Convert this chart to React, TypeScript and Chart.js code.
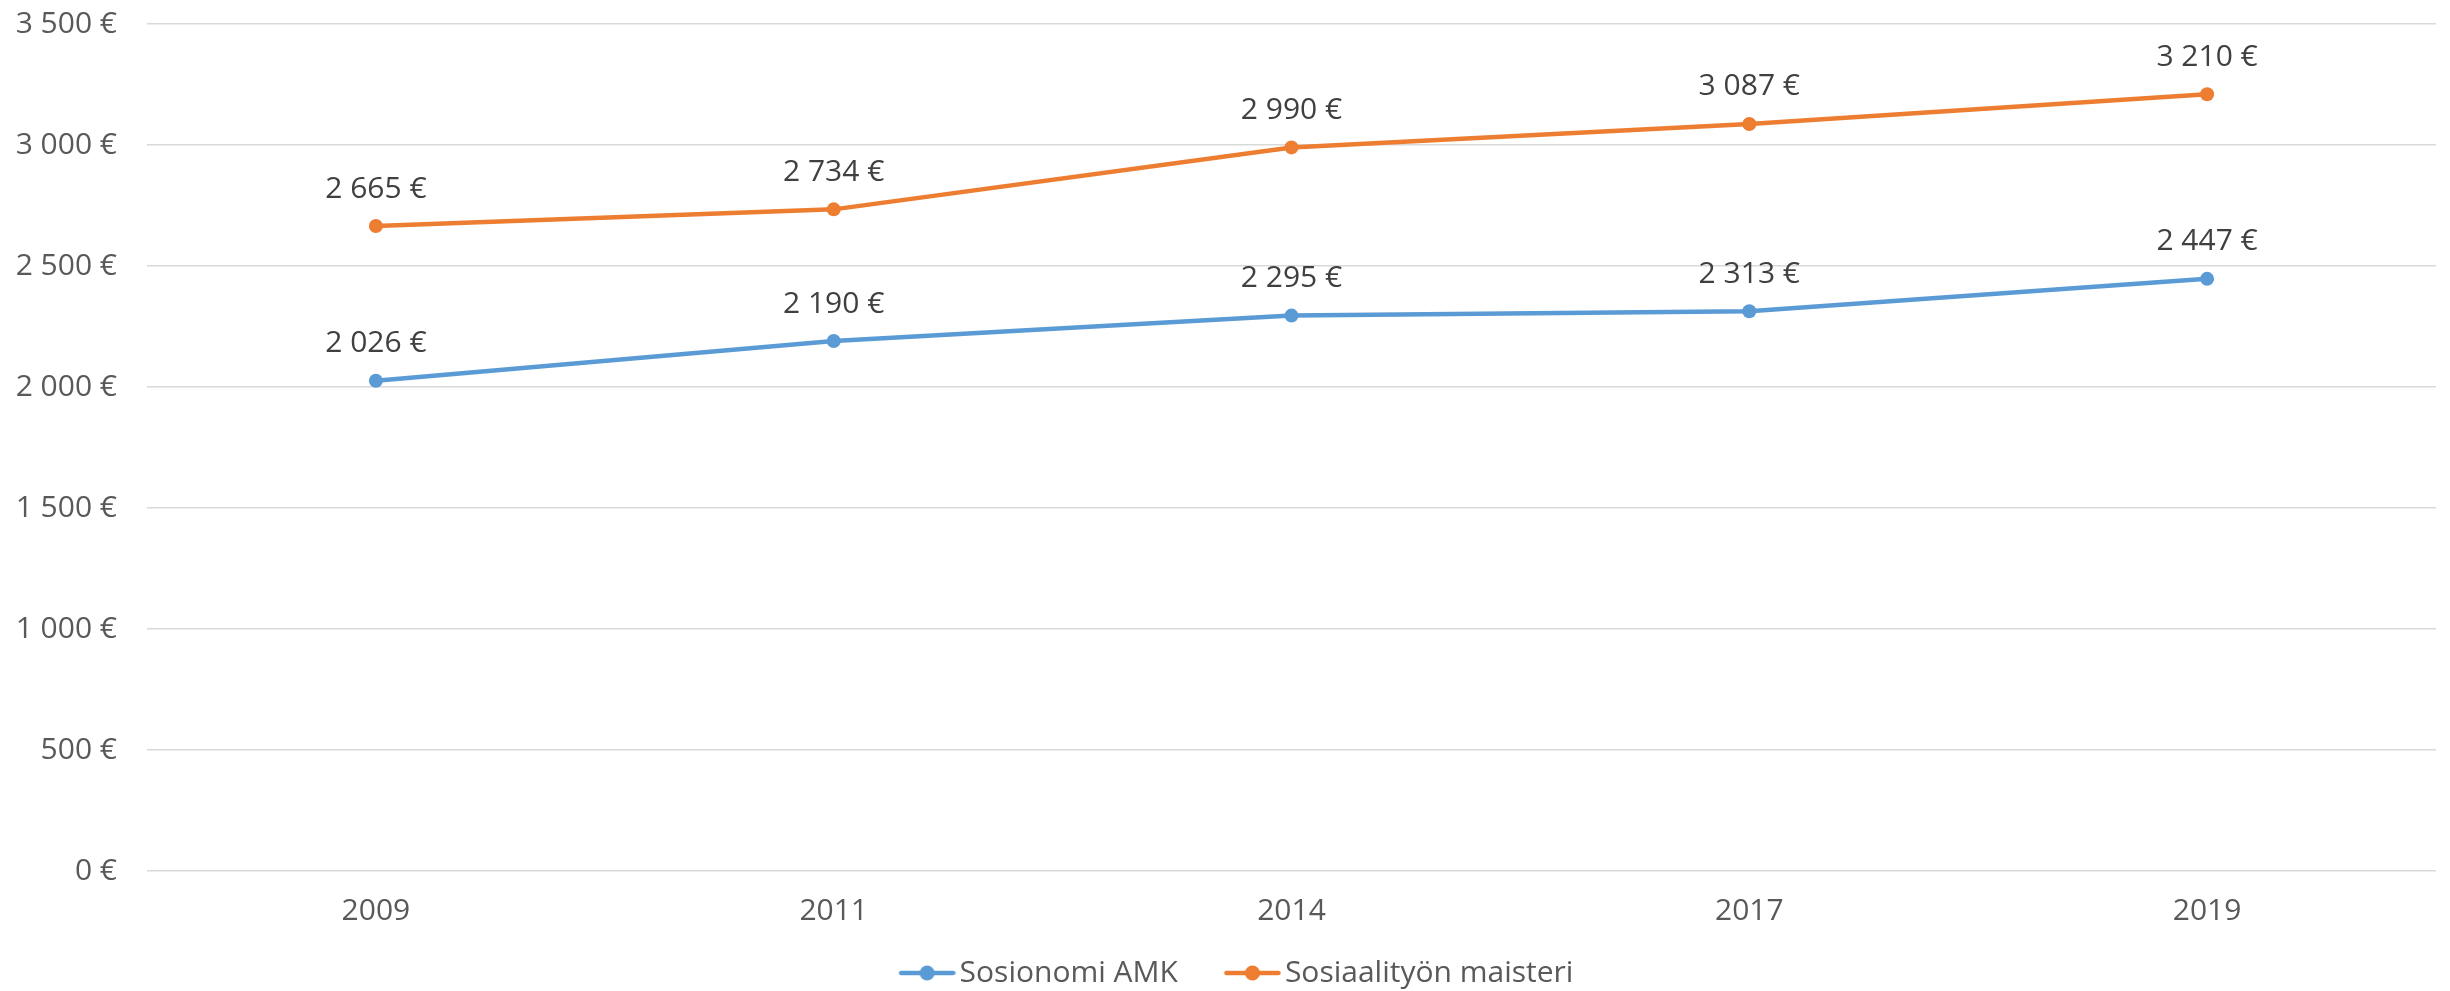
import React, { useEffect, useRef } from "react";
import { Chart, registerables } from "chart.js";

Chart.register(...registerables);

const categories = ["2009", "2011", "2014", "2017", "2019"];
const sosionomiAmk = [2026, 2190, 2295, 2313, 2447];
const sosiaalitynMaisteri = [2665, 2734, 2990, 3087, 3210];
const seriesNames = ["Sosionomi AMK", "Sosiaalityön maisteri"];
const seriesColors = ["#5B9BD5", "#ED7D31"];
const yMin = 0;
const yMax = 3500;
const yStep = 500;

const FONT = "'Open Sans', sans-serif";

function euro(v: number): string {
  return String(v).replace(/\B(?=(\d{3})+(?!\d))/g, " ") + " €";
}

function makeLegendImage(color: string): HTMLCanvasElement {
  const c = document.createElement("canvas");
  c.width = 104;
  c.height = 18;
  const ctx = c.getContext("2d")!;
  ctx.strokeStyle = color;
  ctx.lineWidth = 4.5;
  ctx.lineCap = "round";
  ctx.beginPath();
  ctx.moveTo(47 + 2.5, 9);
  ctx.lineTo(104 - 2.5, 9);
  ctx.stroke();
  ctx.fillStyle = color;
  ctx.beginPath();
  ctx.arc(47 + 28.5, 9, 7.5, 0, Math.PI * 2);
  ctx.fill();
  return c;
}

const dataLabelPlugin = {
  id: "dataLabels",
  afterDatasetsDraw(chart: any) {
    const ctx = chart.ctx;
    ctx.save();
    ctx.font = `30px ${FONT}`;
    ctx.fillStyle = "#404040";
    ctx.textAlign = "center";
    ctx.textBaseline = "middle";
    chart.data.datasets.forEach((ds: any, i: number) => {
      const meta = chart.getDatasetMeta(i);
      meta.data.forEach((el: any, j: number) => {
        ctx.fillText(euro(ds.data[j]), el.x, el.y - 37);
      });
    });
    ctx.restore();
  },
};

export default function App() {
  const ref = useRef<HTMLCanvasElement | null>(null);

  useEffect(() => {
    if (!ref.current) return;
    const legendImgs = seriesColors.map(makeLegendImage);
    const chart = new Chart(ref.current, {
      type: "line",
      data: {
        labels: categories,
        datasets: [
          {
            label: seriesNames[0],
            data: sosionomiAmk,
            borderColor: seriesColors[0],
            backgroundColor: seriesColors[0],
            borderWidth: 4.5,
            pointRadius: 7,
            pointBorderWidth: 0,
            pointBackgroundColor: seriesColors[0],
            tension: 0,
          },
          {
            label: seriesNames[1],
            data: sosiaalitynMaisteri,
            borderColor: seriesColors[1],
            backgroundColor: seriesColors[1],
            borderWidth: 4.5,
            pointRadius: 7,
            pointBorderWidth: 0,
            pointBackgroundColor: seriesColors[1],
            tension: 0,
          },
        ],
      },
      options: {
        animation: false,
        responsive: true,
        maintainAspectRatio: false,
        layout: { padding: { top: 24, left: 0, right: 14, bottom: -7 } },
        plugins: {
          tooltip: { enabled: false },
          legend: {
            position: "bottom",
            labels: {
              usePointStyle: true,
              pointStyleWidth: 82,
              padding: 10,
              color: "#595959",
              font: { family: FONT, size: 30 },
              generateLabels: (c: any) => {
                const items = (Chart.defaults.plugins.legend.labels as any).generateLabels(c);
                items.forEach((it: any, i: number) => {
                  it.pointStyle = legendImgs[i];
                  it.fontColor = "#595959";
                });
                return items;
              },
            },
          },
        },
        scales: {
          x: {
            offset: true,
            grid: { display: false, drawTicks: false },
            border: { display: false },
            ticks: {
              color: "#595959",
              font: { family: FONT, size: 30 },
              padding: 22,
              maxRotation: 0,
            },
            afterFit: (s: any) => {
              s.height = 77;
            },
          },
          y: {
            min: yMin,
            max: yMax,
            grid: {
              color: "#D9D9D9",
              lineWidth: 1.5,
              drawTicks: true,
              tickLength: 30,
              tickColor: "rgba(0,0,0,0)",
            },
            border: { display: false },
            ticks: {
              stepSize: yStep,
              color: "#595959",
              font: { family: FONT, size: 30 },
              padding: 0,
              callback: (v: any) => euro(Number(v)),
            },
            afterFit: (s: any) => {
              s.width = 147;
            },
          },
        },
      },
      plugins: [dataLabelPlugin],
    });
    return () => chart.destroy();
  }, []);

  return (
    <div
      style={{
        position: "fixed",
        left: 0,
        top: 0,
        width: 2450,
        height: 991,
        background: "#fff",
      }}
    >
      <canvas ref={ref} />
    </div>
  );
}
